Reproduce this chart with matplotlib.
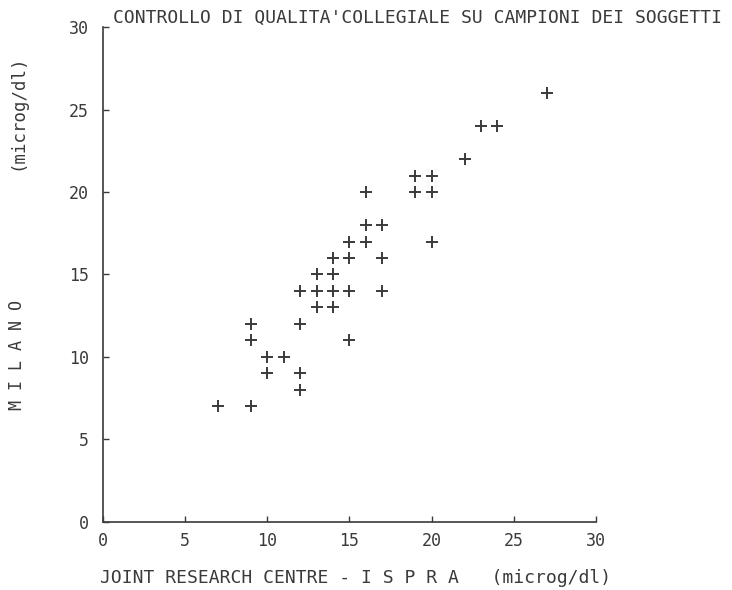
import matplotlib.pyplot as plt

# lead measurements on the same samples: ISPRA reference lab vs Milano lab
ispra = [27, 23, 24, 22, 19, 20, 16, 19, 20, 16, 17, 15, 16, 20,
         14, 15, 17, 13, 14, 12, 13, 14, 15, 17, 13, 14, 9, 12,
         9, 15, 10, 11, 10, 12, 12, 7, 9]
milano = [26, 24, 24, 22, 21, 21, 20, 20, 20, 18, 18, 17, 17, 17,
          16, 16, 16, 15, 15, 14, 14, 14, 14, 14, 13, 13, 12, 12,
          11, 11, 10, 10, 9, 9, 8, 7, 7]
ticks = [0, 5, 10, 15, 20, 25, 30]

title = "CONTROLLO DI QUALITA'COLLEGIALE SU CAMPIONI DEI SOGGETTI"
xlabel = "JOINT RESEARCH CENTRE - I S P R A   (microg/dl)"

ink = "#3a3a3a"
plt.rcParams["font.family"] = "DejaVu Sans Mono"

fig = plt.figure(figsize=(7.32, 5.90), dpi=100)
ax = fig.add_axes([0.1407, 0.1153, 0.6735, 0.8389])

ax.plot(ispra, milano, "+", color=ink, markersize=9, markeredgewidth=1.4)

ax.set_xlim(0, 30)
ax.set_ylim(0, 30)
ax.set_xticks(ticks)
ax.set_yticks(ticks)
for side in ("top", "right"):
    ax.spines[side].set_visible(False)
for side in ("left", "bottom"):
    ax.spines[side].set_color(ink)
    ax.spines[side].set_linewidth(1.2)
ax.tick_params(direction="in", length=4, width=1, colors=ink, labelsize=12)
ax.tick_params(axis="x", pad=7)
ax.tick_params(axis="y", pad=10)

fig.text(113 / 732, 1 - 18 / 590, title, fontsize=13, color=ink,
         ha="left", va="center")
fig.text(100 / 732, 1 - 578 / 590, xlabel, fontsize=13, color=ink,
         ha="left", va="center")
fig.text(17 / 732, 1 - 355 / 590, "M I L A N O", fontsize=12, color=ink,
         rotation=90, ha="center", va="center")
fig.text(17 / 732, 1 - 112 / 590, "(microg/dl)", fontsize=12.5, color=ink,
         rotation=90, ha="center", va="center")

fig.savefig("out.png", dpi=100, facecolor="white")
